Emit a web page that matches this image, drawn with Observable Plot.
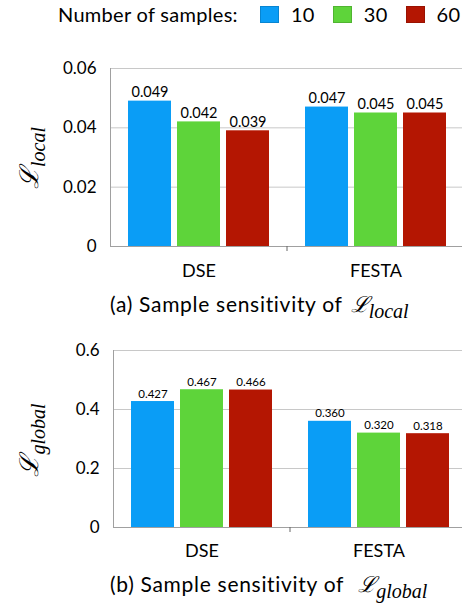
<!DOCTYPE html>
<html><head><meta charset="utf-8">
<script src="https://cdn.jsdelivr.net/npm/d3@7"></script>
<script src="https://cdn.jsdelivr.net/npm/@observablehq/plot@0.6"></script>
<style>
body{margin:0;background:#fff;font-family:Lato,"Open Sans",sans-serif;}
#root{position:relative;width:462px;height:608px;overflow:hidden;background:#fff;}
.abs{position:absolute;white-space:nowrap;}
.legend{left:58px;top:2px;font-size:20px;line-height:24px;display:flex;align-items:center;letter-spacing:0.3px;}
.sw{display:inline-block;width:19px;height:17px;box-sizing:border-box;border:1px solid rgba(0,0,0,0.15);}
.cap{font-size:21px;line-height:24px;left:110px;letter-spacing:0.7px;}
.L{font-family:"DejaVu Serif",serif;font-style:italic;font-size:22px;letter-spacing:0;}
.sub{font-family:"Liberation Serif","DejaVu Serif",serif;font-style:italic;font-size:20px;position:relative;top:6px;letter-spacing:0;}
.ytitle{transform-origin:center center;transform:translate(-50%,-50%) rotate(-90deg);line-height:28px;}
.ytitle .L{font-size:26px;}
.ytitle .sub{font-size:20px;top:7px;}
</style></head><body><div id="root"></div><script>
const methods = ["DSE", "FESTA"];
const sampleSizes = ["10", "30", "60"];
const seriesColors = ["#0a9df6", "#5ed43a", "#b41602"];
const localDSE = [0.049, 0.042, 0.039];
const localFESTA = [0.047, 0.045, 0.045];
const globalDSE = [0.427, 0.467, 0.466];
const globalFESTA = [0.360, 0.320, 0.318];
const localTicks = [0, 0.02, 0.04, 0.06];
const globalTicks = [0, 0.2, 0.4, 0.6];

function toTable(dse, festa) {
  const rows = [];
  [dse, festa].forEach((vals, i) => vals.forEach((v, j) => rows.push({method: methods[i], samples: sampleSizes[j], value: v})));
  return rows;
}

const root = document.getElementById("root");

// legend
const legend = document.createElement("div");
legend.className = "abs legend";
let html = `<span>Number of samples:</span>`;
sampleSizes.forEach((s, i) => {
  html += `<span class="sw" style="background:${seriesColors[i]};margin-left:${i === 0 ? 22 : 18}px"></span><span style="margin-left:12px">${s}</span>`;
});
legend.innerHTML = html;
root.appendChild(legend);

function sepTick(index, scales, values, dims) {
  const x = dims.width - dims.marginRight;
  const y0 = scales.y(0);
  return d3.create("svg:line").attr("x1", x).attr("x2", x).attr("y1", y0).attr("y2", y0 + 5)
    .attr("stroke", "#666").node();
}

function panel(table, ticks, height, valueFontSize, tickPad, left) {
  return Plot.plot({
    width: 462, height, marginTop: 28, marginBottom: 36, marginLeft: left, marginRight: 0,
    style: {fontFamily: "Lato, sans-serif", background: "transparent", color: "black"},
    fx: {domain: methods, padding: 0, range: [left, left + 354], label: null},
    x: {domain: sampleSizes, paddingInner: 0.13, paddingOuter: 0.35, axis: null},
    y: {domain: [ticks[0], ticks[ticks.length - 1]], axis: null, label: null},
    color: {domain: sampleSizes, range: seriesColors},
    marks: [
      Plot.gridY(ticks, {stroke: "#c8c8c8", strokeOpacity: 1}),
      Plot.barY(table, {fx: "method", x: "samples", y: "value", fill: "samples"}),
      Plot.text(table, {fx: "method", x: "samples", y: "value", text: d => d3.format(".3f")(d.value),
        lineAnchor: "bottom", dy: -4, fontSize: valueFontSize, fill: "black"}),
      Plot.ruleY([0], {stroke: "#a0a0a0"}),
      Plot.frame({anchor: "left", facetAnchor: "left", stroke: "#a0a0a0"}),
      sepTick,
      Plot.axisY(ticks, {tickSize: 0, tickPadding: 14, fontSize: 17, tickFormat: d3.format("~g"), label: null}),
      Plot.axisFx({anchor: "bottom", tickSize: 0, tickPadding: tickPad, fontSize: 18, label: null})
    ]
  });
}

function place(el, top) {
  el.style.position = "absolute";
  el.style.left = "0px";
  el.style.top = top + "px";
  root.appendChild(el);
}

place(panel(toTable(localDSE, localFESTA), localTicks, 242, 14.5, 18, 110), 40);
place(panel(toTable(globalDSE, globalFESTA), globalTicks, 241, 11.5, 17, 113), 322);

function addYTitle(sub, cy) {
  const d = document.createElement("div");
  d.className = "abs ytitle";
  d.style.left = "30px";
  d.style.top = cy + "px";
  d.innerHTML = `<span class="L">ℒ</span><span class="sub">${sub}</span>`;
  root.appendChild(d);
}
addYTitle("local", 158);
addYTitle("global", 440);

function addCaption(label, sub, top, gap) {
  const d = document.createElement("div");
  d.className = "abs cap";
  d.style.top = top + "px";
  d.innerHTML = `${label} Sample sensitivity of<span class="L" style="margin-left:${gap}px">ℒ</span><span class="sub">${sub}</span>`;
  root.appendChild(d);
}
addCaption("(a)", "local", 292, 8);
addCaption("(b)", "global", 572, 14);
</script></body></html>
